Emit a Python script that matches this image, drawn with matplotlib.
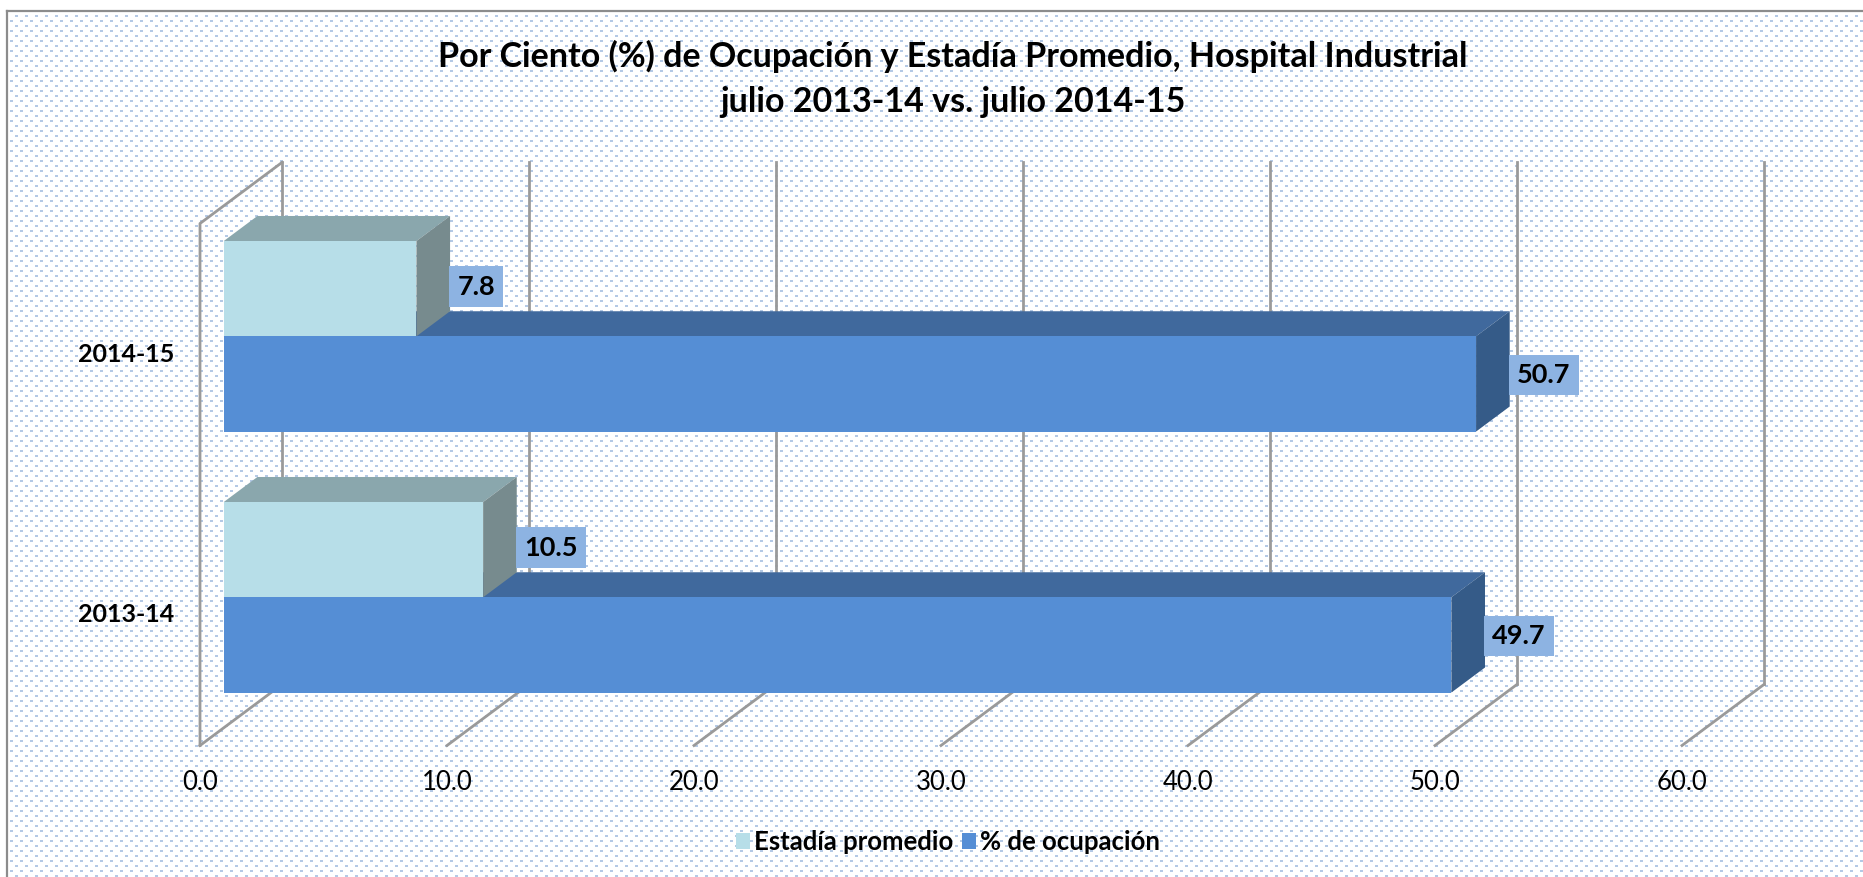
import numpy as np
import matplotlib
matplotlib.use("Agg")
import matplotlib.pyplot as plt
from matplotlib.patches import Polygon, Patch

# ============================== DATA ==============================
categories = ["2013-14", "2014-15"]
series_names = ["Estadía promedio", "% de ocupación"]
estadia = [10.5, 7.8]
ocupacion = [49.7, 50.7]
x_ticks = [0, 10, 20, 30, 40, 50, 60]
title = ("Por Ciento (%) de Ocupación y Estadía Promedio, Hospital Industrial\n"
         "julio 2013-14 vs. julio 2014-15")

# ============================== STYLE ==============================
W, H = 1863, 877
FONT = "Lato"
face_colors = {"front": ["#B7DEE8", "#558ED5"],
               "top": ["#8AA7AD", "#40699D"],
               "side": ["#778B8E", "#355B88"]}
label_box = "#8DB3E2"
grid_color = "#9A9A9A"

# pseudo-3D geometry (value units / category units)
DX, DY = 3.32, 0.234      # offset of the back wall
Z0, Z1 = 0.29, 0.70       # depth occupied by the bars
BW = 0.365                # bar thickness (category units)
label_dy = [0.008, 0.035]


def proj(v, c, z):
    return v + z * DX, c + z * DY


def draw_box(ax, v0, v1, c0, c1, s):
    front = [proj(v0, c0, Z0), proj(v1, c0, Z0), proj(v1, c1, Z0), proj(v0, c1, Z0)]
    top = [proj(v0, c1, Z0), proj(v1, c1, Z0), proj(v1, c1, Z1), proj(v0, c1, Z1)]
    side = [proj(v1, c0, Z0), proj(v1, c1, Z0), proj(v1, c1, Z1), proj(v1, c0, Z1)]
    for pts, key in [(top, "top"), (side, "side"), (front, "front")]:
        ax.add_patch(Polygon(pts, closed=True, facecolor=face_colors[key][s],
                             edgecolor="none", zorder=3))


fig = plt.figure(figsize=(W / 100, H / 100), dpi=100)

# background: dotted pattern fill + chart border
bg = fig.add_axes([0, 0, 1, 1])
yy, xx = np.mgrid[0:H, 0:W]
tex = np.ones((H, W, 3))
dots = (yy % 5 < 2) & (((xx + 5 * ((yy // 5) % 2)) % 10) < 3)
tex[dots] = (180 / 255, 201 / 255, 229 / 255)
tex[:11, :] = 1
tex[:, :7] = 1
bg.imshow(tex, extent=(0, W, H, 0), interpolation="nearest", aspect="auto")
bg.plot([7, 7], [11, H], color="#8C8C8C", lw=1.6)
bg.plot([7, W], [11, 11], color="#8C8C8C", lw=1.6)
bg.set_xlim(0, W)
bg.set_ylim(H, 0)
bg.axis("off")

# main chart
ax = fig.add_axes([0, 0, 1, 1])
ax.set_facecolor("none")
ax.set_xlim(-200 / 24.7, (W - 200) / 24.7)
ax.set_ylim(-262 / 261, (H - 262) / 261)
ax.axis("off")

lo, hi = -0.5, len(categories) - 0.5
# back wall gridlines and floor lines
for v in x_ticks:
    p = [proj(v, lo, 1), proj(v, hi, 1)]
    ax.plot([a for a, b in p], [b for a, b in p], color=grid_color, lw=2.0, zorder=1)
    p = [proj(v, lo, 0), proj(v, lo, 1)]
    ax.plot([a for a, b in p], [b for a, b in p], color=grid_color, lw=2.0, zorder=1)
    ax.text(v, -0.64, f"{v:.1f}", ha="center", va="center", fontsize=18.5,
            family=FONT)
# side wall
p = [proj(0, lo, 0), proj(0, hi, 0), proj(0, hi, 1)]
ax.plot([a for a, b in p], [b for a, b in p], color=grid_color, lw=2.0, zorder=1)

# bars
for i, cat in enumerate(categories):
    values = [estadia[i], ocupacion[i]]
    spans = [(i, i + BW), (i - BW, i)]
    for s in [1, 0]:
        c0, c1 = spans[s]
        draw_box(ax, 0, values[s], c0, c1, s)
        lx, ly = proj(values[s], (c0 + c1) / 2, Z0)
        ax.text(values[s] + Z1 * DX + 0.3, ly + label_dy[s], f"{values[s]:.1f}",
                ha="left", va="center", fontsize=19.5, fontweight="bold",
                family=FONT, zorder=5,
                bbox=dict(boxstyle="square,pad=0.3", facecolor=label_box,
                          edgecolor="none"))
    ax.text(-1.05, i, cat, ha="right", va="center", fontsize=18,
            fontweight="bold", family=FONT)

fig.text(953 / W, 1 - 79 / H, title, ha="center", va="center", fontsize=24.5,
         fontweight="bold", family=FONT, linespacing=1.5)

handles = [Patch(facecolor=face_colors["front"][s], edgecolor="none")
           for s in range(2)]
fig.legend(handles, series_names, loc="center", bbox_to_anchor=(948 / W, 1 - 842 / H),
           ncol=2, frameon=False, prop=dict(family=FONT, weight="bold", size=18.5),
           handlelength=0.55, handleheight=0.55, handletextpad=0.15,
           columnspacing=0.35)

fig.savefig("out.png", dpi=100)
